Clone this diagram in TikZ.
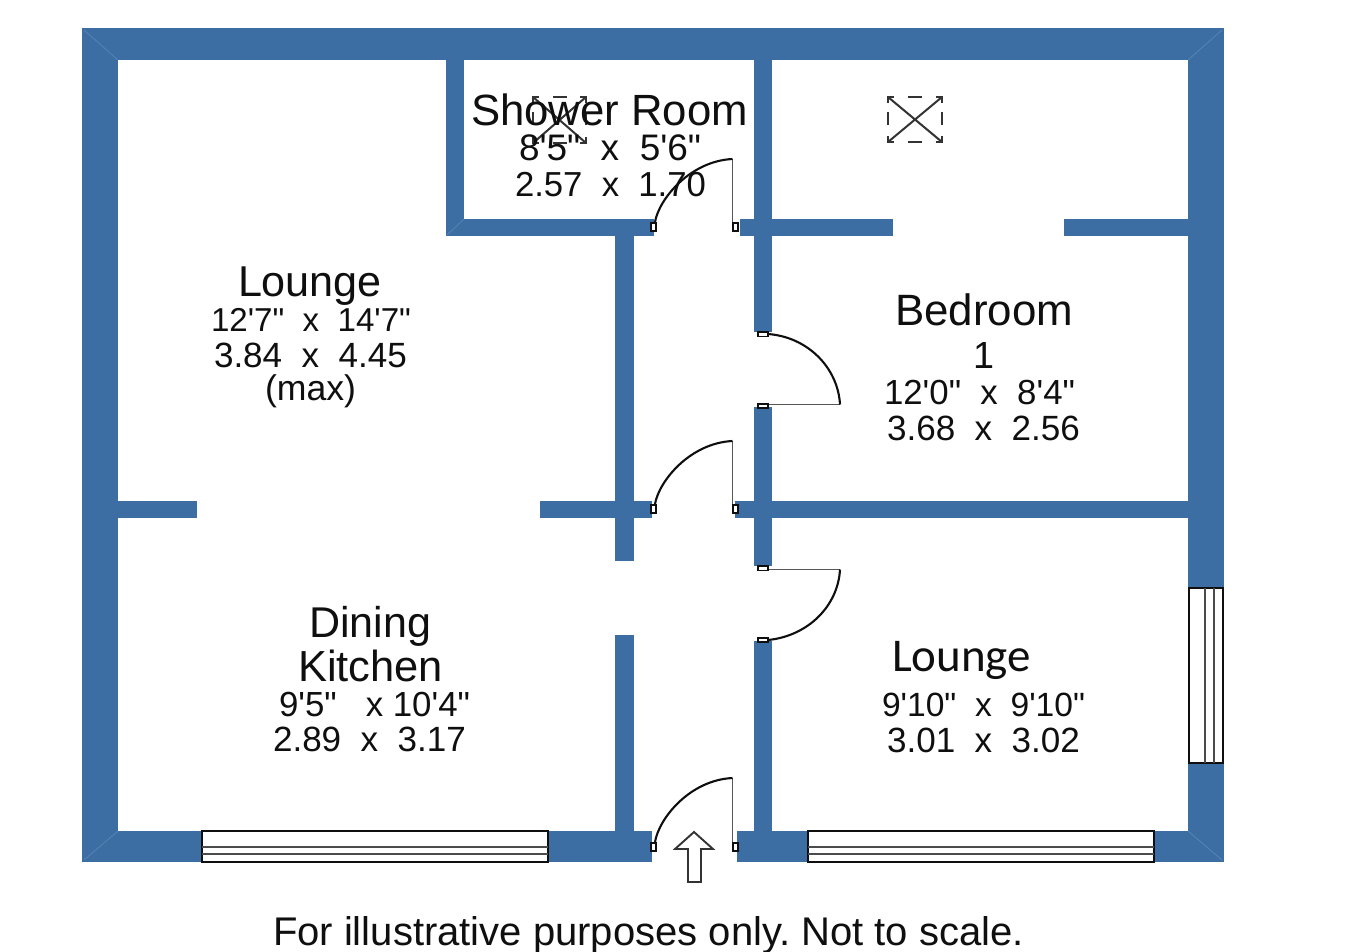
\documentclass[tikz,border=0pt]{standalone}
\usepackage{fontspec}
\usepackage{graphicx}
\newfontfamily\arialf{Liberation Sans}
\newfontfamily\calibf{Carlito}
\definecolor{wallblue}{RGB}{60,110,163}
\definecolor{seam}{RGB}{88,135,182}
\definecolor{ink}{RGB}{15,15,15}
\tikzset{
  wall/.style={fill=wallblue,draw=none},
  seamline/.style={draw=seam,line width=0.7pt},
  pane/.style={fill=white,draw=ink,line width=2pt},
  paneline/.style={draw=ink!75,line width=2pt},
  leaf/.style={draw=ink!70,line width=1.9pt},
  swing/.style={draw=ink,line width=2.1pt},
  hinge/.style={fill=white,draw=ink,line width=1.2pt},
  sky/.style={draw=ink!85,line width=2pt},
  lab/.style={anchor=base west,inner sep=0pt,outer sep=0pt,text=ink,font=\arialf\fontsize{34}{34}\selectfont},
}
% \lab{name}{x}{baseline}{width}{text}
\newcommand{\lab}[6][]{\node[lab,#1] (#2) at (#3,#4+1) {\frenchspacing\resizebox{#5pt}{!}{#6}};}
% door swinging upwards from the wall centred at y=#1, leaf top at y=#2
\newcommand{\hdoor}[2]{%
  \draw[leaf] (732.5,#1) -- (732.5,#2);
  \draw[swing] (655,#1-5) .. controls (659,#2+40) and (690,#2+2) .. (732.5,#2);
  \draw[hinge] (651,#1-4) rectangle (656,#1+4);
  \draw[hinge] (733,#1-4) rectangle (738,#1+4);
}
\newcommand{\skylight}[4]{%
  \draw[sky] (#1,#2) -- (#3,#4) (#1,#4) -- (#3,#2);
  \draw[sky] (#1,#2+6) -- (#1,#2) -- (#1+6,#2);
  \draw[sky] (#3-6,#2) -- (#3,#2) -- (#3,#2+6);
  \draw[sky] (#1,#4-6) -- (#1,#4) -- (#1+6,#4);
  \draw[sky] (#3-6,#4) -- (#3,#4) -- (#3,#4-6);
  \draw[sky] (#1+20,#2) -- (#1+34,#2) (#1+20,#4) -- (#1+34,#4);
  \draw[sky] (#1,#2+15) -- (#1,#2+28) (#3,#2+15) -- (#3,#2+28);
}
\begin{document}
\begin{tikzpicture}[x=1pt,y=-1pt]
\useasboundingbox (0,0) rectangle (1370,951);
\fill[white] (0,0) rectangle (1370,951);
% outer walls
\fill[wall] (82,28) rectangle (1224,60);
\fill[wall] (82,28) rectangle (118,862);
\fill[wall] (1188,28) rectangle (1224,862);
\fill[wall] (82,831) rectangle (652,862);
\fill[wall] (737,831) rectangle (1224,862);
% shower room walls
\fill[wall] (446,60) rectangle (464,236);
\fill[wall] (446,219) rectangle (654,236);
\fill[wall] (740,219) rectangle (893,236);
\fill[wall] (1064,219) rectangle (1188,236);
% corridor walls
\fill[wall] (615,236) rectangle (634,561);
\fill[wall] (615,635) rectangle (634,831);
\fill[wall] (754,60) rectangle (772,332);
\fill[wall] (754,407) rectangle (772,566);
\fill[wall] (754,641) rectangle (772,831);
% cross walls
\fill[wall] (118,501) rectangle (197,518);
\fill[wall] (540,501) rectangle (652,518);
\fill[wall] (735,501) rectangle (1188,518);
% mitre seams
\draw[seamline] (84,30) -- (118,60);
\draw[seamline] (1222,30) -- (1188,60);
\draw[seamline] (84,860) -- (118,831);
\draw[seamline] (1222,860) -- (1188,831);
\draw[seamline] (447,235) -- (464,219);
% windows
\draw[pane] (202,831) rectangle (548,862);
\draw[paneline] (202,847) -- (548,847) (202,854) -- (548,854);
\draw[pane] (808,831) rectangle (1154,862);
\draw[paneline] (808,847) -- (1154,847) (808,854) -- (1154,854);
\draw[pane] (1188.5,588) rectangle (1223,763);
\draw[paneline] (1205,588) -- (1205,763) (1214,588) -- (1214,763);
% doors on the corridor
\hdoor{227}{159}
\hdoor{509}{441}
\hdoor{847}{778}
% bedroom door
\draw[leaf] (768,404.5) -- (840,404.5);
\draw[swing] (840,404.5) .. controls (838,368) and (808,337) .. (768,334);
\draw[hinge] (758,332) rectangle (768,336.5);
\draw[hinge] (758,404) rectangle (768,408);
% lounge door
\draw[leaf] (768,569.5) -- (840,569.5);
\draw[swing] (840,569.5) .. controls (838,606) and (808,636) .. (768,640);
\draw[hinge] (758,566) rectangle (768,570.5);
\draw[hinge] (758,638) rectangle (768,642);
% entrance arrow
\draw[draw=ink!85,line width=1.9pt,fill=white] (694,832) -- (713,849) -- (701,849) -- (701,882) -- (688,882) -- (688,849) -- (675,849) -- cycle;
% skylights
\skylight{533}{97}{586}{143}
\skylight{888}{97}{942}{142}
% labels
\lab{showerT}{471}{124}{277}{Shower Room}
\lab{showerA}{519}{159}{182}{8'5"~~x~~5'6"}
\lab{showerB}{515}{195}{191}{2.57~~x~~1.70}
\lab{loungeT}{238}{295}{144}{Lounge}
\lab{loungeA}{211}{330}{200}{12'7"~~x~~14'7"}
\lab{loungeB}{214}{366}{193}{3.84~~x~~4.45}
\lab{loungeC}{265}{399}{91}{(max)}
\lab{bedT}{895}{324}{178}{Bedroom}
\lab{bedN}{973}{367}{21}{1}
\lab{bedA}{884}{403}{191}{12'0"~~x~~8'4"}
\lab{bedB}{887}{439}{193}{3.68~~x~~2.56}
\lab{dineT}{309}{636}{122}{Dining}
\lab{kitT}{298}{680}{145}{Kitchen}
\lab{kitA}{279}{715}{191}{9'5"~~~x~10'4"}
\lab{kitB}{273}{750}{193}{2.89~~x~~3.17}
\lab[font=\calibf\fontsize{40}{40}\selectfont]{loungeR}{892}{670}{139}{Lounge}
\lab{loungeRA}{882}{715}{203}{9'10"~~x~~9'10"}
\lab{loungeRB}{887}{751}{193}{3.01~~x~~3.02}
\lab{foot}{273}{944}{751}{For illustrative purposes only. Not to scale.}
\end{tikzpicture}
\end{document}
